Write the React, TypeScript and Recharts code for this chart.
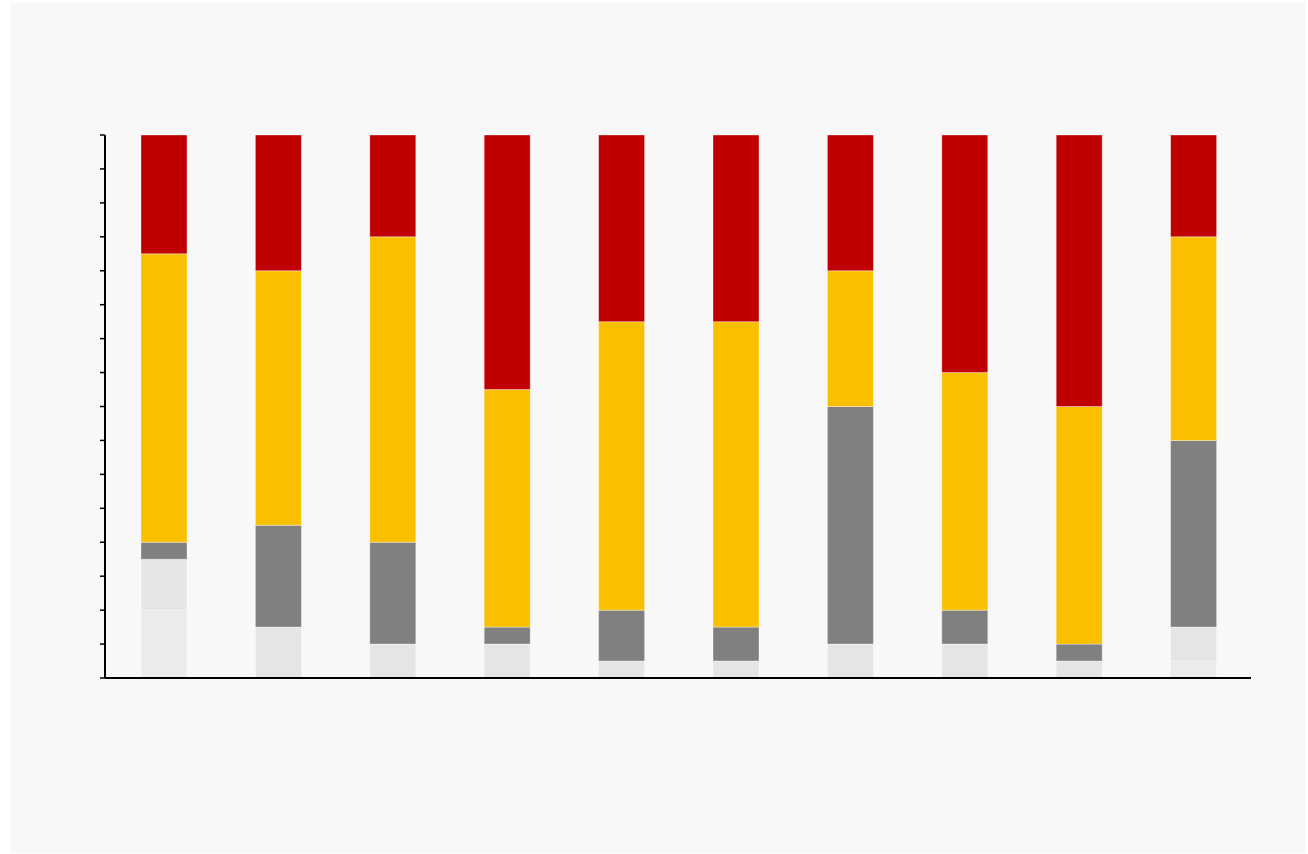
import React from "react";
import { BarChart, Bar, XAxis, YAxis } from "recharts";

const categories = ["1", "2", "3", "4", "5", "6", "7", "8", "9", "10"];
const veryLight = [4, 0, 0, 0, 0, 0, 0, 0, 0, 1];
const light = [3, 3, 2, 2, 1, 1, 2, 2, 1, 2];
const gray = [1, 6, 6, 1, 3, 2, 14, 2, 1, 11];
const yellow = [17, 15, 18, 14, 17, 18, 8, 14, 14, 12];
const red = [7, 8, 6, 15, 11, 11, 8, 14, 16, 6];
const yTicks = [0, 2, 4, 6, 8, 10, 12, 14, 16, 18, 20, 22, 24, 26, 28, 30, 32];

const data = categories.map((name, i) => ({
  name,
  veryLight: veryLight[i],
  light: light[i],
  gray: gray[i],
  yellow: yellow[i],
  red: red[i],
}));

const series = [
  { key: "veryLight", color: "#ebebeb" },
  { key: "light", color: "#e6e4e6" },
  { key: "gray", color: "#808080" },
  { key: "yellow", color: "#fac000" },
  { key: "red", color: "#c00000" },
];

const NoLabel = () => <g />;

export default function App() {
  return (
    <div style={{ position: "fixed", left: 0, top: 0, width: 1308, height: 854, background: "#ffffff" }}>
      <div style={{ position: "absolute", left: 11, top: 3, width: 1294, height: 850, background: "#f8f8f8" }}>
        <BarChart
          width={1294}
          height={850}
          data={data}
          barSize={46}
          margin={{ top: 132, right: 54, left: 0, bottom: 165 }}
        >
          <XAxis
            dataKey="name"
            height={10}
            padding={{ left: 2, right: 0 }}
            tick={false}
            tickLine={false}
            axisLine={{ stroke: "#000000", strokeWidth: 2 }}
          />
          <YAxis
            width={94}
            domain={[0, 32]}
            ticks={yTicks}
            interval={0}
            tick={NoLabel}
            tickSize={5}
            tickLine={{ stroke: "#000000", strokeWidth: 1.5 }}
            axisLine={{ stroke: "#000000", strokeWidth: 2 }}
          />
          {series.map((s) => (
            <Bar
              key={s.key}
              dataKey={s.key}
              stackId="a"
              fill={s.color}
              stroke="#ffffff"
              strokeOpacity={0.35}
              strokeWidth={1}
              isAnimationActive={false}
            />
          ))}
        </BarChart>
      </div>
    </div>
  );
}
